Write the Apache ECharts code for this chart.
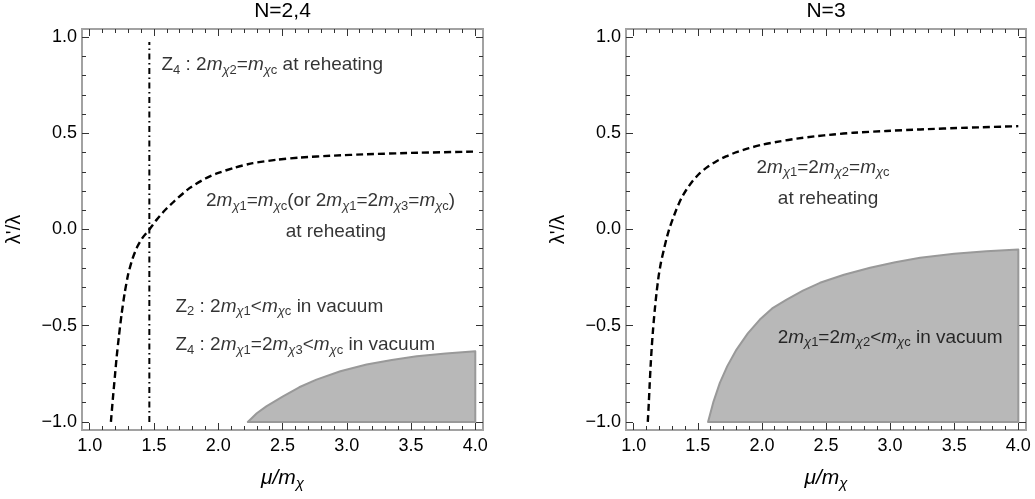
<!DOCTYPE html>
<html><head><meta charset="utf-8">
<script src="https://cdn.jsdelivr.net/npm/echarts@6/dist/echarts.min.js"></script>
<style>html,body{margin:0;padding:0;background:#fff}#c{width:1035px;height:499px}</style>
</head><body><div id="c"></div>
<script>
// ---------- data ----------
const panelTitles = ['N=2,4', 'N=3'];
const xRange = [0.94, 4.06];
const yRange = [-1.042, 1.042];
const xMajorTicks = [1, 1.5, 2, 2.5, 3, 3.5, 4];
const xMinorTicks = [1.1,1.2,1.3,1.4,1.6,1.7,1.8,1.9,2.1,2.2,2.3,2.4,2.6,2.7,2.8,2.9,3.1,3.2,3.3,3.4,3.6,3.7,3.8,3.9];
const yMajorTicks = [-1, -0.5, 0, 0.5, 1];
const yMinorTicks = [-0.9,-0.8,-0.7,-0.6,-0.4,-0.3,-0.2,-0.1,0.1,0.2,0.3,0.4,0.6,0.7,0.8,0.9];

// left panel (N=2,4)
const leftDashed = [[1.165,-1.0],[1.18,-0.88],[1.195,-0.77],[1.21,-0.66],[1.228,-0.55],[1.248,-0.44],[1.272,-0.33],[1.30,-0.23],[1.334,-0.15],[1.37,-0.09],[1.412,-0.042],[1.464,0.0],[1.52,0.05],[1.585,0.10],[1.659,0.148],[1.776,0.215],[1.90,0.265],[1.984,0.29],[2.13,0.322],[2.27,0.345],[2.45,0.362],[2.634,0.374],[2.9,0.384],[3.154,0.391],[3.5,0.398],[4.0,0.405]];
const leftDashDot = [[1.464,-1.0],[1.464,0.975]];
const leftRegion = [[2.23,-1.0],[2.30,-0.955],[2.374,-0.919],[2.504,-0.867],[2.63,-0.82],[2.764,-0.78],[2.95,-0.737],[3.154,-0.702],[3.35,-0.678],[3.544,-0.659],[3.77,-0.645],[4.0,-0.633],[4.0,-1.0]];

// right panel (N=3)
const rightDashed = [[1.11,-1.0],[1.118,-0.90],[1.125,-0.80],[1.132,-0.71],[1.14,-0.62],[1.151,-0.52],[1.164,-0.42],[1.178,-0.33],[1.195,-0.24],[1.213,-0.17],[1.235,-0.105],[1.255,-0.05],[1.276,0.0],[1.305,0.055],[1.333,0.104],[1.37,0.16],[1.412,0.208],[1.46,0.252],[1.516,0.293],[1.58,0.327],[1.646,0.355],[1.72,0.38],[1.802,0.402],[1.9,0.423],[2.01,0.442],[2.14,0.458],[2.271,0.472],[2.41,0.484],[2.557,0.494],[2.713,0.503],[2.97,0.512],[3.234,0.52],[3.6,0.529],[4.0,0.537]];
const rightRegion = [[1.58,-1.0],[1.62,-0.90],[1.672,-0.797],[1.73,-0.71],[1.802,-0.624],[1.89,-0.54],[1.984,-0.468],[2.08,-0.41],[2.193,-0.364],[2.32,-0.318],[2.453,-0.277],[2.64,-0.235],[2.844,-0.199],[3.04,-0.170],[3.234,-0.147],[3.5,-0.126],[3.75,-0.113],[4.0,-0.104],[4.0,-1.0]];

// annotation texts (rich text) and their anchors in data coordinates
const leftNoteTexts = [
  '{n|Z}{sn|4}{n| : 2}{i|m}{si|χ}{sn|2}{n|=}{i|m}{si|χ}{sn|c}{n| at reheating}',
  '{n|2}{i|m}{si|χ}{sn|1}{n|=}{i|m}{si|χ}{sn|c}{n|(or 2}{i|m}{si|χ}{sn|1}{n|=2}{i|m}{si|χ}{sn|3}{n|=}{i|m}{si|χ}{sn|c}{n|)}',
  '{n|at reheating}',
  '{n|Z}{sn|2}{n| : 2}{i|m}{si|χ}{sn|1}{n|<}{i|m}{si|χ}{sn|c}{n| in vacuum}',
  '{n|Z}{sn|4}{n| : 2}{i|m}{si|χ}{sn|1}{n|=2}{i|m}{si|χ}{sn|3}{n|<}{i|m}{si|χ}{sn|c}{n| in vacuum}'
];
const leftNoteAnchors = [[1.558,0.855],[2.874,0.147],[2.915,-0.01],[1.667,-0.40],[1.667,-0.60]];
const leftNoteAlign = ['left','center','center','left','left'];

const rightNoteTexts = [
  '{n|2}{i|m}{si|χ}{sn|1}{n|=2}{i|m}{si|χ}{sn|2}{n|=}{i|m}{si|χ}{sn|c}',
  '{n|at reheating}',
  '{n|2}{i|m}{si|χ}{sn|1}{n|=2}{i|m}{si|χ}{sn|2}{n|<}{i|m}{si|χ}{sn|c}{n| in vacuum}'
];
const rightNoteAnchors = [[2.477,0.322],[2.516,0.161],[3.0,-0.562]];
const rightNoteAlign = ['center','center','center'];

// ---------- styles ----------
const FONT = '"Liberation Sans", Arial, sans-serif';
const TXT = '#000';
const FRAME = '#a2a2a2';
const TICK = '#333';
const rich = {
  n:  {fontSize: 19, fontFamily: FONT, color: TXT},
  i:  {fontSize: 19, fontFamily: FONT, color: TXT, fontStyle: 'italic'},
  si: {fontSize: 13, fontFamily: FONT, color: TXT, fontStyle: 'italic', padding: [10,0,0,0]},
  sn: {fontSize: 13, fontFamily: FONT, color: TXT, padding: [10,0,0,0]}
};
const nameRich = {
  i:  {fontSize: 21, fontFamily: FONT, color: TXT, fontStyle: 'italic'},
  n:  {fontSize: 21, fontFamily: FONT, color: TXT},
  si: {fontSize: 15, fontFamily: FONT, color: TXT, fontStyle: 'italic', padding: [10,0,0,0]}
};
const fmt = v => (v < 0 ? '\u2212' + Math.abs(v).toFixed(1) : v.toFixed(1));

function baseAxis(g, range) {
  return {type: 'value', gridIndex: g, min: range[0], max: range[1],
    splitLine: {show: false}, axisLine: {show: false, onZero: false},
    axisLabel: {show: false}, axisTick: {show: false}};
}
function tick(values, len) {
  return {show: true, inside: true, length: len, customValues: values,
    lineStyle: {color: TICK, width: 1}};
}
function xAxesFor(g, title) {
  return [
    Object.assign(baseAxis(g, xRange), {position: 'bottom',
      axisTick: tick(xMajorTicks, 7),
      axisLabel: {show: true, customValues: xMajorTicks, formatter: fmt, margin: 7,
        fontSize: 18, fontFamily: FONT, color: TXT},
      name: '{i|μ/m}{si|χ}', nameLocation: 'middle', nameGap: 36,
      nameTextStyle: {rich: nameRich}}),
    Object.assign(baseAxis(g, xRange), {position: 'bottom', axisTick: tick(xMinorTicks, 4)}),
    Object.assign(baseAxis(g, xRange), {position: 'top', axisTick: tick(xMajorTicks, 7),
      name: title, nameLocation: 'middle', nameGap: 7,
      nameTextStyle: {fontSize: 21, fontFamily: FONT, color: TXT}}),
    Object.assign(baseAxis(g, xRange), {position: 'top', axisTick: tick(xMinorTicks, 4)})
  ];
}
function yAxesFor(g) {
  return [
    Object.assign(baseAxis(g, yRange), {position: 'left',
      axisTick: tick(yMajorTicks, 7),
      axisLabel: {show: true, customValues: yMajorTicks, formatter: fmt, margin: 5,
        fontSize: 18, fontFamily: FONT, color: TXT},
      name: "λ'/λ", nameLocation: 'middle', nameGap: 58, nameRotate: 90,
      nameTextStyle: {fontSize: 20, fontFamily: FONT, color: TXT}}),
    Object.assign(baseAxis(g, yRange), {position: 'left', axisTick: tick(yMinorTicks, 4)}),
    Object.assign(baseAxis(g, yRange), {position: 'right', axisTick: tick(yMajorTicks, 7)}),
    Object.assign(baseAxis(g, yRange), {position: 'right', axisTick: tick(yMinorTicks, 4)})
  ];
}

function regionSeries(axisIdx, pts) {
  return {type: 'custom', xAxisIndex: axisIdx, yAxisIndex: axisIdx, silent: true, z: 1,
    data: [[2, 0]],
    renderItem: (params, api) => ({
      type: 'polygon',
      shape: {points: pts.map(p => api.coord(p))},
      style: {fill: '#b8b8b8', stroke: '#999999', lineWidth: 2, lineJoin: 'round'}
    })};
}
function lineSeries(axisIdx, pts, dash, smooth, width) {
  return {type: 'line', xAxisIndex: axisIdx, yAxisIndex: axisIdx, data: pts,
    showSymbol: false, symbol: 'none', smooth: smooth, silent: true, z: 3,
    lineStyle: {color: '#000', width: width, type: dash}};
}
function noteSeries(axisIdx, anchors, texts, aligns) {
  return {type: 'scatter', xAxisIndex: axisIdx, yAxisIndex: axisIdx, silent: true, z: 5,
    symbolSize: 0,
    data: anchors.map((a, k) => ({
      value: a,
      label: {show: true, formatter: texts[k], rich: rich,
        position: aligns[k] === 'left' ? 'right' : 'inside', distance: 0}
    }))};
}

const option = {
  animation: false,
  backgroundColor: '#fff',
  grid: [
    {left: 82, top: 29, width: 401, height: 401, show: true, borderColor: FRAME, borderWidth: 2,
      backgroundColor: 'transparent', containLabel: false, outerBoundsMode: 'none'},
    {left: 626, top: 29, width: 400, height: 401, show: true, borderColor: FRAME, borderWidth: 2,
      backgroundColor: 'transparent', containLabel: false, outerBoundsMode: 'none'}
  ],
  xAxis: [...xAxesFor(0, panelTitles[0]), ...xAxesFor(1, panelTitles[1])],
  yAxis: [...yAxesFor(0), ...yAxesFor(1)],
  series: [
    regionSeries(0, leftRegion),
    lineSeries(0, leftDashed, [7, 4], 0.2, 2.4),
    lineSeries(0, leftDashDot, [6, 3.5, 1.5, 3.5], false, 2),
    noteSeries(0, leftNoteAnchors, leftNoteTexts, leftNoteAlign),
    regionSeries(4, rightRegion),
    lineSeries(4, rightDashed, [7, 4], 0.2, 2.4),
    noteSeries(4, rightNoteAnchors, rightNoteTexts, rightNoteAlign)
  ]
};
const chart = echarts.init(document.getElementById('c'), null, {renderer: 'canvas'});
chart.setOption(option);
</script></body></html>
